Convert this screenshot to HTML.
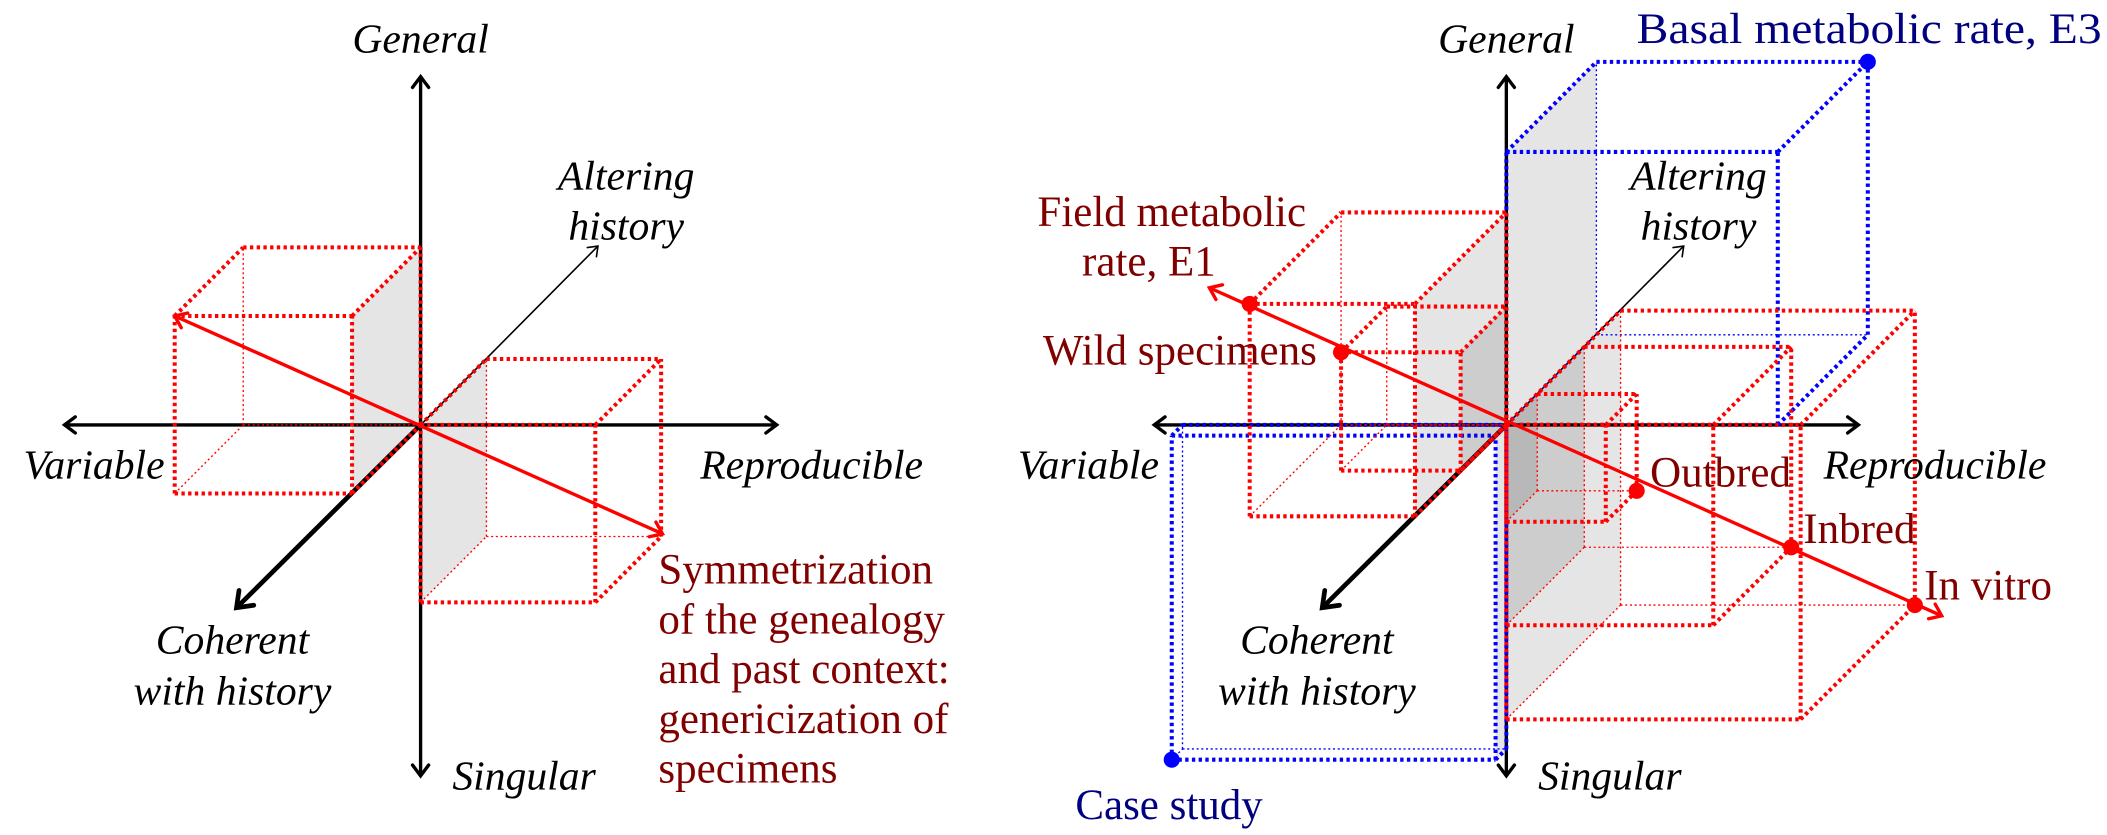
<!DOCTYPE html>
<html><head><meta charset="utf-8"><style>
html,body{margin:0;padding:0;background:#fff;}
svg{display:block;}
text{font-family:"Liberation Serif",serif;font-size:32px;}
.ax{font-style:italic;fill:#000;font-size:31px;}
.dr{fill:#800000;}
.nv{fill:#000080;}
</style></head><body>
<svg id="chart" width="2107" height="835" viewBox="0 0 1568 621" preserveAspectRatio="none" xmlns="http://www.w3.org/2000/svg">
<g id="shade"></g>
<g id="axes"></g>
<g id="boxes"></g>
<g id="marks"></g>
<g>
<text class="ax" x="313" y="39" text-anchor="middle">General</text>
<text class="ax" x="466" y="141" text-anchor="middle">Altering</text>
<text class="ax" x="466" y="178" text-anchor="middle">history</text>
<text class="ax" x="70" y="356" text-anchor="middle">Variable</text>
<text class="ax" x="604" y="356" text-anchor="middle">Reproducible</text>
<text class="ax" x="173" y="486" text-anchor="middle">Coherent</text>
<text class="ax" x="173" y="524" text-anchor="middle">with history</text>
<text class="ax" x="390" y="587" text-anchor="middle">Singular</text>
<text class="dr" x="490" y="434"><tspan x="490">Symmetrization</tspan><tspan x="490" dy="37">of the genealogy</tspan><tspan x="490" dy="37">and past context:</tspan><tspan x="490" dy="37">genericization of</tspan><tspan x="490" dy="37">specimens</tspan></text>
<text class="ax" x="1121" y="39" text-anchor="middle">General</text>
<text class="nv" x="1218" y="32" textLength="346" lengthAdjust="spacingAndGlyphs">Basal metabolic rate, E3</text>
<text class="dr" x="872" y="168" text-anchor="middle">Field metabolic</text>
<text class="dr" x="855" y="205" text-anchor="middle">rate, E1</text>
<text class="dr" x="980" y="271" text-anchor="end">Wild specimens</text>
<text class="ax" x="810" y="356" text-anchor="middle">Variable</text>
<text class="ax" x="1440" y="356" text-anchor="middle">Reproducible</text>
<text class="ax" x="1264" y="141" text-anchor="middle">Altering</text>
<text class="ax" x="1264" y="178" text-anchor="middle">history</text>
<text class="dr" x="1228" y="362">Outbred</text>
<text class="dr" x="1342" y="404">Inbred</text>
<text class="dr" x="1432" y="446">In vitro</text>
<text class="ax" x="980" y="486" text-anchor="middle">Coherent</text>
<text class="ax" x="980" y="524" text-anchor="middle">with history</text>
<text class="ax" x="1198" y="587" text-anchor="middle">Singular</text>
<text class="nv" x="870" y="609" text-anchor="middle">Case study</text>
</g>
</svg>
<script>
// box data: diagram index, extents in x, y, z
const boxDiagram = [0, 0, 1, 1, 1, 1, 1, 1, 1];
const boxXmin = [-132, 0, 0, -241, 0, 0, 0, -123, -89];
const boxXmax = [0, 130, 202, 0, 219, 154, 74, 0, 0];
const boxYmin = [0, -132, 0, -241, -219, -149, -72, 0, 0];
const boxYmax = [132, 0, 203, 0, 0, 0, 0, 158, 88];
const boxZmin = [-51, 0, 0, -8, 0, 0, 0, -68, -34];
const boxZmax = [0, 49, 67, 0, 85, 58, 23, 0, 0];
const boxColor = ['red', 'red', 'blue', 'blue', 'red', 'red', 'red', 'red', 'red'];
// point data
const ptDiagram = [1, 1, 1, 1, 1, 1, 1];
const ptX = [202, -241, -123, -89, 74, 154, 219];
const ptY = [203, -241, 158, 88, -72, -149, -219];
const ptZ = [67, -8, -68, -34, 23, 58, 85];
const ptColor = ['blue', 'blue', 'red', 'red', 'red', 'red', 'red'];
const originX = [313, 1121];
const originY = [316, 316];

const NS = 'http://www.w3.org/2000/svg';
function px(d, x, z) { return originX[d] + x + z; }
function py(d, y, z) { return originY[d] - y - z; }
function mk(tag, parent, attrs) {
  const e = document.createElementNS(NS, tag);
  for (const k in attrs) e.setAttribute(k, attrs[k]);
  parent.appendChild(e);
  return e;
}
const gS = document.getElementById('shade'), gA = document.getElementById('axes'),
      gB = document.getElementById('boxes'), gM = document.getElementById('marks');

boxDiagram.forEach((d, i) => {
  const pts = [[boxYmin[i], boxZmin[i]], [boxYmin[i], boxZmax[i]], [boxYmax[i], boxZmax[i]], [boxYmax[i], boxZmin[i]]]
    .map(p => px(d, 0, p[1]) + ',' + py(d, p[0], p[1])).join(' ');
  const e = mk('polygon', gS, { points: pts, fill: '#000', 'fill-opacity': 0.1 });
  
  
});

function chevron(x, y, ang, sz, w) {
  const a1 = ang + 2.5, a2 = ang - 2.5;
  const e = mk('path', gA, { d: `M${x + sz * Math.cos(a1)},${y + sz * Math.sin(a1)} L${x},${y} L${x + sz * Math.cos(a2)},${y + sz * Math.sin(a2)}`, fill: 'none', stroke: '#000', 'stroke-width': w, 'stroke-linecap': 'round' });
  
  
}
function line(par, x1, y1, x2, y2, st, w, name) {
  const e = mk('line', par, { x1, y1, x2, y2, stroke: st, 'stroke-width': w });
  
  
  return e;
}
[0, 1].forEach(d => {
  const ox = originX[d], oy = originY[d];
  const hl = d === 0 ? 265 : 262;
  line(gA, ox, oy - 259, ox, oy + 261, '#000', 2.5, 'vertical-axis');
  line(gA, ox - hl, oy, ox + hl, oy, '#000', 2.5, 'horizontal-axis');
  chevron(ox, oy - 259, -Math.PI / 2, 10, 2.5);
  chevron(ox, oy + 261, Math.PI / 2, 10, 2.5);
  chevron(ox - hl, oy, Math.PI, 10, 2.5);
  chevron(ox + hl, oy, 0, 10, 2.5);
  line(gA, ox, oy, ox + 132, oy - 133, '#000', 1.2, 'altering-axis');
  chevron(ox + 132, oy - 133, -Math.PI / 4, 8, 1.2);
  line(gA, ox, oy, ox - 137, oy + 136, '#000', 3.5, 'coherent-axis');
  chevron(ox - 137, oy + 136, Math.PI * 3 / 4, 13, 3.5);
});

boxDiagram.forEach((d, i) => {
  const xs = [boxXmin[i], boxXmax[i]], ys = [boxYmin[i], boxYmax[i]], zs = [boxZmin[i], boxZmax[i]];
  const col = boxColor[i] === 'red' ? '#ff0000' : '#0000ff';
  const verts = [];
  for (let a = 0; a < 2; a++) for (let b = 0; b < 2; b++) for (let c = 0; c < 2; c++) verts.push([a, b, c]);
  verts.forEach(v => {
    [[1, 0, 0], [0, 1, 0], [0, 0, 1]].forEach(dv => {
      const w = [v[0] + dv[0], v[1] + dv[1], v[2] + dv[2]];
      if (w[0] > 1 || w[1] > 1 || w[2] > 1) return;
      const hidden = (v[0] === 0 && v[1] === 0 && v[2] === 1) || (w[0] === 0 && w[1] === 0 && w[2] === 1);
      const e = line(gB,
        px(d, xs[v[0]], zs[v[2]]), py(d, ys[v[1]], zs[v[2]]),
        px(d, xs[w[0]], zs[w[2]]), py(d, ys[w[1]], zs[w[2]]),
        col, hidden ? 1 : 3, 'box-edge');
      e.setAttribute('stroke-dasharray', hidden ? '1.5 2' : '2.5 2.5');
    });
  });
});

function redArrow(x1, y1, x2, y2, w) {
  line(gM, x1, y1, x2, y2, '#ff0000', w, 'symmetrization-arrow');
  [[x1, y1, x2, y2], [x2, y2, x1, y1]].forEach(p => {
    const ang = Math.atan2(p[1] - p[3], p[0] - p[2]);
    const a1 = ang + 2.5, a2 = ang - 2.5, s = 10;
    const e = mk('path', gM, { d: `M${p[0] + s * Math.cos(a1)},${p[1] + s * Math.sin(a1)} L${p[0]},${p[1]} L${p[0] + s * Math.cos(a2)},${p[1] + s * Math.sin(a2)}`, fill: 'none', stroke: '#ff0000', 'stroke-width': w, 'stroke-linecap': 'round' });
    
    
  });
}
redArrow(130, 235, 493, 397, 2.5);
redArrow(900, 214, 1445, 458, 2.5);

ptDiagram.forEach((d, i) => {
  const e = mk('circle', gM, { cx: px(d, ptX[i], ptZ[i]), cy: py(d, ptY[i], ptZ[i]), r: 6, fill: ptColor[i] === 'red' ? '#ff0000' : '#0000ff' });
  
  
});
</script>
</body></html>
